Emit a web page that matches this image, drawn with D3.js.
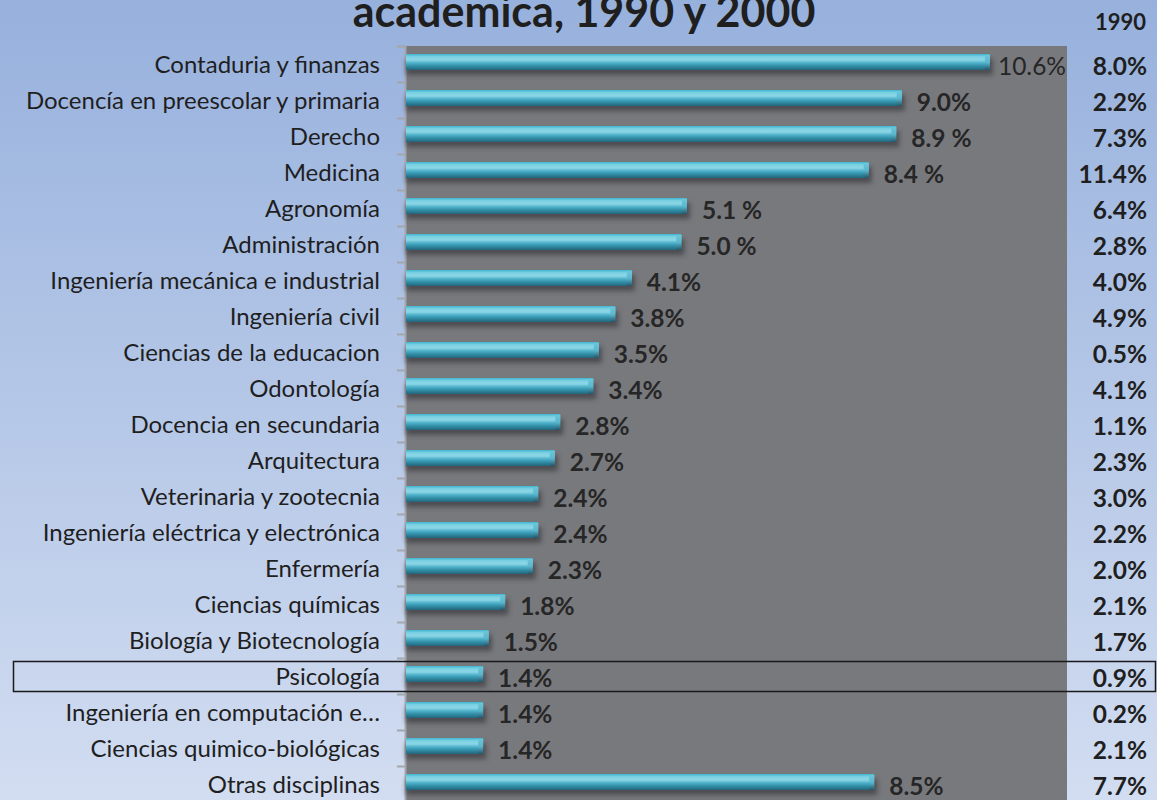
<!DOCTYPE html>
<html>
<head>
<meta charset="utf-8">
<script src="https://cdn.jsdelivr.net/npm/d3@7"></script>
<style>
  html, body { margin: 0; padding: 0; }
  body { width: 1157px; height: 800px; overflow: hidden; }
  text { font-family: Lato, "Open Sans", sans-serif; }
</style>
</head>
<body>
<div id="chart"></div>
<script>
// categorías (orden de arriba hacia abajo)
const categories = [
  "Contaduria y finanzas",
  "Docencía en preescolar y primaria",
  "Derecho",
  "Medicina",
  "Agronomía",
  "Administración",
  "Ingeniería mecánica e industrial",
  "Ingeniería civil",
  "Ciencias de la educacion",
  "Odontología",
  "Docencia en secundaria",
  "Arquitectura",
  "Veterinaria y zootecnia",
  "Ingeniería eléctrica y electrónica",
  "Enfermería",
  "Ciencias químicas",
  "Biología y Biotecnología",
  "Psicología",
  "Ingeniería en computación e…",
  "Ciencias quimico-biológicas",
  "Otras disciplinas"
];

// porcentajes 2000 (barras)
const values2000 = [10.6, 9.0, 8.9, 8.4, 5.1, 5.0, 4.1, 3.8, 3.5, 3.4, 2.8, 2.7, 2.4, 2.4, 2.3, 1.8, 1.5, 1.4, 1.4, 1.4, 8.5];
// etiquetas tal como aparecen
const labels2000 = ["10.6%", "9.0%", "8.9 %", "8.4 %", "5.1 %", "5.0 %", "4.1%", "3.8%", "3.5%", "3.4%", "2.8%", "2.7%", "2.4%", "2.4%", "2.3%", "1.8%", "1.5%", "1.4%", "1.4%", "1.4%", "8.5%"];
// columna 1990
const values1990 = [8.0, 2.2, 7.3, 11.4, 6.4, 2.8, 4.0, 4.9, 0.5, 4.1, 1.1, 2.3, 3.0, 2.2, 2.0, 2.1, 1.7, 0.9, 0.2, 2.1, 7.7];

const title = "academica, 1990 y 2000";
const header1990 = "1990";
const highlighted = "Psicología";

const width = 1157, height = 800;
const plot = { left: 406, right: 1067, top: 46, bottom: 802 };

const svg = d3.select("#chart").append("svg")
  .attr("width", width)
  .attr("height", height);

const defs = svg.append("defs");

// fondo azul degradado
const bg = defs.append("linearGradient").attr("id", "bg")
  .attr("x1", 0).attr("y1", 0).attr("x2", 0).attr("y2", 1);
bg.append("stop").attr("offset", "0%").attr("stop-color", "#97b1dd");
bg.append("stop").attr("offset", "100%").attr("stop-color", "#d2ddf1");

// barra tipo cilindro
const barGrad = defs.append("linearGradient").attr("id", "barGrad")
  .attr("x1", 0).attr("y1", 0).attr("x2", 0).attr("y2", 1);
[["0%", "#3fb4cf"], ["18%", "#7fd2e4"], ["38%", "#8bd6e6"], ["55%", "#4fb2cb"], ["78%", "#2f8aa3"], ["100%", "#23657a"]]
  .forEach(([o, c]) => barGrad.append("stop").attr("offset", o).attr("stop-color", c));

const endGrad = defs.append("linearGradient").attr("id", "endGrad")
  .attr("x1", 0).attr("y1", 0).attr("x2", 0).attr("y2", 1);
[["0%", "#6cc6da"], ["50%", "#59b6cd"], ["100%", "#22566a"]]
  .forEach(([o, c]) => endGrad.append("stop").attr("offset", o).attr("stop-color", c));

const blur = defs.append("filter").attr("id", "shadow")
  .attr("x", "-5%").attr("y", "-50%").attr("width", "110%").attr("height", "200%");
blur.append("feGaussianBlur").attr("stdDeviation", 2.5);

svg.append("rect")
  .attr("width", width).attr("height", height)
  .attr("fill", "url(#bg)");

// escalas
const y = d3.scaleBand()
  .domain(categories)
  .range([plot.top, plot.bottom]);

const x = d3.scaleLinear()
  .domain([0, 12])
  .range([plot.left, plot.right]);

const bh = 16;
const barY = (d) => y(d) + y.bandwidth() / 2 - 2;

// área gris
svg.append("rect")
  .attr("x", plot.left).attr("y", plot.top)
  .attr("width", plot.right - plot.left)
  .attr("height", plot.bottom - plot.top)
  .attr("fill", "#78797d");

// eje vertical con marcas en los límites de categoría
const tickScale = d3.scaleLinear().domain([0, categories.length]).range([plot.top, plot.bottom]);
const axis = svg.append("g")
  .attr("transform", `translate(${plot.left - 1},0)`)
  .call(d3.axisLeft(tickScale).ticks(categories.length).tickSize(8).tickFormat(""));
axis.selectAll("path, line").attr("stroke", "#a3a6ad").attr("stroke-width", 2);

const rows = categories.map((c, i) => ({ c, v: values2000[i], lab: labels2000[i], v90: values1990[i] }));

// sombras
svg.append("g").selectAll("rect")
  .data(rows).join("rect")
  .attr("x", plot.left)
  .attr("y", (d) => barY(d.c) - bh / 2 + 5)
  .attr("width", (d) => x(d.v) - x(0) + 3)
  .attr("height", bh)
  .attr("fill", "#3c3d42")
  .attr("opacity", 0.75)
  .attr("filter", "url(#shadow)");

// barras
svg.append("g").selectAll("rect")
  .data(rows).join("rect")
  .attr("x", plot.left)
  .attr("y", (d) => barY(d.c) - bh / 2)
  .attr("width", (d) => x(d.v) - x(0))
  .attr("height", bh)
  .attr("fill", "url(#barGrad)");

// extremo biselado
svg.append("g").selectAll("rect")
  .data(rows).join("rect")
  .attr("x", (d) => x(d.v) - 5)
  .attr("y", (d) => barY(d.c) - bh / 2 + 1)
  .attr("width", 5)
  .attr("height", bh - 1)
  .attr("fill", "url(#endGrad)");

// etiquetas de categoría
svg.append("g").selectAll("text")
  .data(rows).join("text")
  .attr("x", 380)
  .attr("y", (d) => y(d.c) + y.bandwidth() / 2 - 1)
  .attr("text-anchor", "end")
  .attr("dominant-baseline", "central")
  .attr("font-size", 24)
  .attr("fill", "#1f1f1f")
  .text((d) => d.c);

// etiquetas 2000
svg.append("g").selectAll("text")
  .data(rows).join("text")
  .attr("y", (d) => barY(d.c) + 3)
  .attr("dominant-baseline", "central")
  .attr("font-size", 24.5)
  .attr("font-weight", (d, i) => (i === 0 ? "normal" : "bold"))
  .attr("fill", "#262626")
  .text((d) => d.lab)
  .attr("x", function (d) {
    const w = this.getComputedTextLength();
    return Math.min(x(d.v) + 15, plot.right - w - 1);
  });

// columna 1990
svg.append("text")
  .attr("x", 1146).attr("y", 21)
  .attr("text-anchor", "end")
  .attr("dominant-baseline", "central")
  .attr("font-size", 22)
  .attr("font-weight", "bold")
  .attr("fill", "#1f1f1f")
  .text(header1990);

svg.append("g").selectAll("text")
  .data(rows).join("text")
  .attr("x", 1147)
  .attr("y", (d) => y(d.c) + y.bandwidth() / 2 + 1)
  .attr("text-anchor", "end")
  .attr("dominant-baseline", "central")
  .attr("font-size", 24.5)
  .attr("font-weight", "bold")
  .attr("fill", "#1f1f1f")
  .text((d) => d.v90.toFixed(1) + "%");

// título (cortado arriba)
svg.append("text")
  .attr("x", 584).attr("y", 27)
  .attr("text-anchor", "middle")
  .attr("font-size", 43)
  .attr("font-weight", "bold")
  .attr("fill", "#1f1f1f")
  .text(title);

// recuadro Psicología
svg.append("rect")
  .attr("x", 13.5)
  .attr("y", y(highlighted) + 3.5)
  .attr("width", 1142)
  .attr("height", 30)
  .attr("fill", "none")
  .attr("stroke", "#1a1a1a")
  .attr("stroke-width", 1.5);
</script>
</body>
</html>
